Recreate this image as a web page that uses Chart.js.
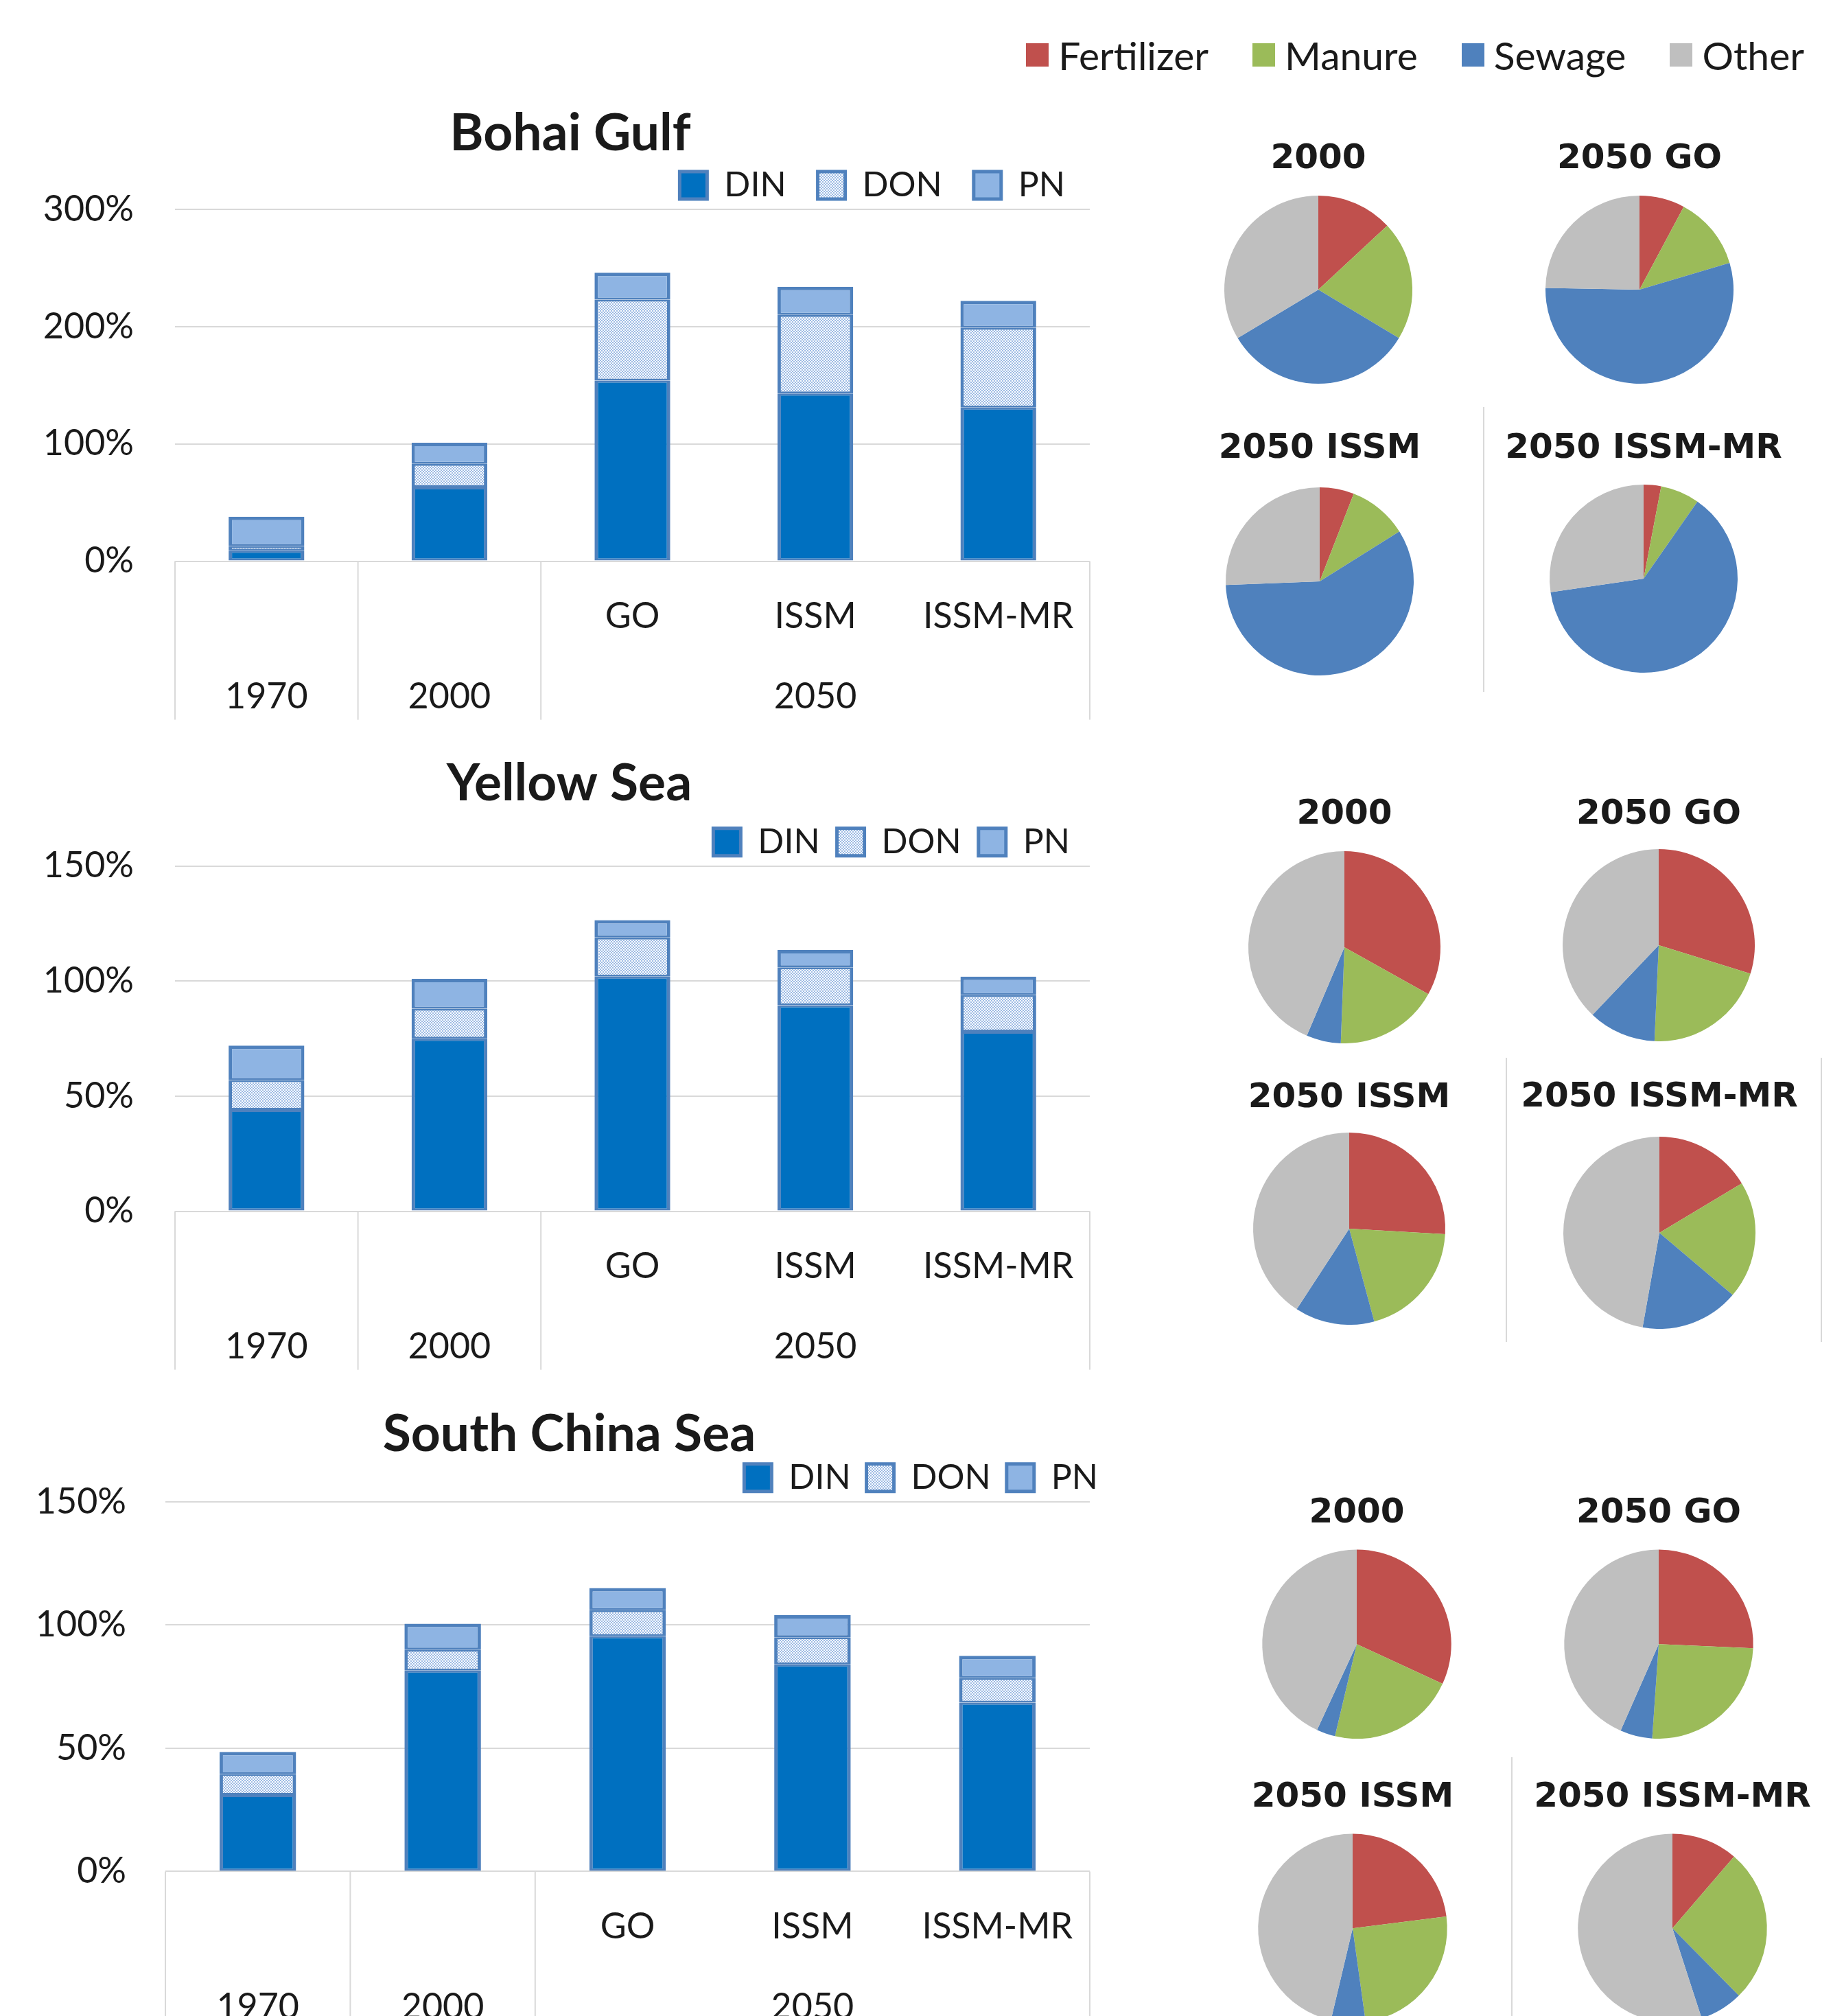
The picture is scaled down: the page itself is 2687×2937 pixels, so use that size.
<!DOCTYPE html>
<html>
<head>
<title>Nitrogen export to Chinese seas</title>
<script src="https://cdn.jsdelivr.net/npm/chart.js@4"></script>
<style>
  body { margin: 0; width: 2687px; height: 2937px; overflow: hidden; background: #fff; position: relative; font-family: Lato, sans-serif; }
  canvas { position: absolute; }
  .sep { position: absolute; width: 2px; background: #D9D9D9; }
  #sources { position: absolute; top: 50px; right: 58px; height: 60px; display: flex; align-items: center; font-size: 57px; color: #1a1a1a; }
  #sources .item { display: flex; align-items: center; margin-left: 64px; }
  #sources .box { display: inline-block; width: 33px; height: 34px; margin-right: 14px; }
</style>
</head>
<body>
<div id="sources"></div>
<script>
// ---- data ----
const categories = ['1970', '2000', 'GO', 'ISSM', 'ISSM-MR'];
const subLabels = ['', '', 'GO', 'ISSM', 'ISSM-MR'];
const groups = [['1970', 0, 0], ['2000', 1, 1], ['2050', 2, 4]];
const forms = ['DIN', 'DON', 'PN'];

// % of 2000 total
const bohaiDIN = [9, 63, 154, 143, 131];
const bohaiDON = [4, 20, 69, 67, 68];
const bohaiPN = [25, 18, 23, 24, 23];
const yellowDIN = [44, 75, 102, 89.5, 78];
const yellowDON = [13, 13, 17, 16.5, 16];
const yellowPN = [15, 13, 7.5, 7.5, 8];
const southDIN = [31, 81.5, 95.5, 84, 68.5];
const southDON = [8.5, 8.5, 10.5, 11, 10];
const southPN = [9, 10.5, 9, 9, 9];

const sources = ['Fertilizer', 'Manure', 'Sewage', 'Other'];
const pieTitles = ['2000', '2050 GO', '2050 ISSM', '2050 ISSM-MR'];
// source shares (%) per pie, order as pieTitles
const bohaiShares = [[13.1, 20.5, 32.8, 33.6], [7.8, 12.6, 54.9, 24.7], [5.9, 10.2, 58.3, 25.6], [3.0, 6.7, 63.0, 27.3]];
const yellowShares = [[33.1, 17.5, 5.8, 43.6], [29.8, 20.9, 11.4, 37.9], [25.9, 19.9, 13.4, 40.8], [16.4, 19.8, 16.6, 47.2]];
const southShares = [[31.9, 21.8, 3.2, 43.1], [25.7, 25.4, 5.5, 43.4], [23.0, 24.8, 5.9, 46.3], [11.3, 26.3, 7.4, 55.0]];

// ---- styles ----
const sourceColors = ['#C0504D', '#9BBB59', '#4F81BD', '#BFBFBF'];
const textColor = '#1a1a1a';
const gridColor = '#D9D9D9';
const edgeColor = '#4F81BD';

Chart.defaults.font.family = 'Lato';
Chart.defaults.color = textColor;

function addCanvas(left, top, w, h) {
    const c = document.createElement('canvas');
    c.width = w;
    c.height = h;
    c.style.left = left + 'px';
    c.style.top = top + 'px';
    document.body.appendChild(c);
    return c;
}

function dotPattern() {
    const t = document.createElement('canvas');
    t.width = 4;
    t.height = 4;
    const g = t.getContext('2d');
    g.fillStyle = '#ffffff';
    g.fillRect(0, 0, 4, 4);
    g.fillStyle = '#9DBBE4';
    g.fillRect(0, 0, 2, 2);
    g.fillRect(2, 2, 2, 2);
    return g.createPattern(t, 'repeat');
}

// two-level category axis drawn below the zero line, like the Excel original
const categoryBoxes = {
    id: 'categoryBoxes',
    afterDraw(chart) {
        const {ctx, chartArea: area, scales: {x, y}} = chart;
        const zero = y.getPixelForValue(0);
        const step = (area.right - area.left) / categories.length;
        ctx.save();
        ctx.strokeStyle = gridColor;
        ctx.lineWidth = 2;
        const edges = [0].concat(groups.map(g => g[2] + 1));
        edges.forEach(i => {
            const px = area.left + i * step;
            ctx.beginPath();
            ctx.moveTo(px, zero);
            ctx.lineTo(px, zero + 231);
            ctx.stroke();
        });
        ctx.fillStyle = textColor;
        ctx.font = '52px Lato';
        ctx.textAlign = 'center';
        ctx.textBaseline = 'middle';
        subLabels.forEach((s, i) => ctx.fillText(s, x.getPixelForValue(i), zero + 81));
        groups.forEach(([label, from, to]) => {
            ctx.fillText(label, (x.getPixelForValue(from) + x.getPixelForValue(to)) / 2, zero + 198);
        });
        ctx.restore();
    }
};

// nudge the DIN/DON/PN legend sideways after layout
const legendShift = {
    id: 'legendShift',
    afterLayout(chart, args, opts) {
        chart.legend.left += opts.dx;
        chart.legend.right += opts.dx;
    }
};

const dots = dotPattern();

function barChart(title, din, don, pn, yMax, yStep, g) {
    const c = addCanvas(0, g.top, g.width, g.height);
    const seg = (top) => ({top: top, bottom: 3, left: 5, right: 5});
    new Chart(c, {
        type: 'bar',
        data: {
            labels: categories,
            datasets: [
                {label: forms[0], data: din, backgroundColor: '#0070C0', borderColor: edgeColor, borderWidth: seg(3), borderSkipped: false},
                {label: forms[1], data: don, backgroundColor: dots, borderColor: edgeColor, borderWidth: seg(3), borderSkipped: false},
                {label: forms[2], data: pn, backgroundColor: '#8EB4E3', borderColor: edgeColor, borderWidth: seg(5), borderSkipped: false}
            ]
        },
        options: {
            responsive: false,
            animation: false,
            layout: {padding: {left: 0, right: 0, top: 0, bottom: g.padBottom}},
            datasets: {bar: {categoryPercentage: 1, barPercentage: 0.414}},
            scales: {
                x: {stacked: true, display: false},
                y: {
                    stacked: true,
                    min: 0,
                    max: yMax,
                    ticks: {stepSize: yStep, padding: g.tickPad, font: {size: 52}, callback: v => v + '%'},
                    grid: {color: gridColor, lineWidth: 2, drawTicks: false},
                    border: {display: false},
                    afterFit: s => { s.width = g.axisWidth; }
                },
                // empty right margin so the title centres over the whole panel
                y2: {
                    position: 'right',
                    grid: {display: false},
                    border: {display: false},
                    ticks: {display: false},
                    afterFit: s => { s.width = g.width - 1588; }
                }
            },
            plugins: {
                tooltip: {enabled: false},
                legendShift: {dx: g.legendDx},
                title: {
                    display: true,
                    text: title,
                    color: textColor,
                    font: {size: 75, weight: 'bold', lineHeight: 1.2},
                    padding: {top: 0, bottom: g.titlePad}
                },
                legend: {
                    position: 'top',
                    align: 'end',
                    fullSize: false,
                    labels: {
                        boxWidth: 40,
                        boxHeight: 40,
                        padding: g.legendPad,
                        font: {size: 50},
                        color: textColor,
                        generateLabels: ch => Chart.defaults.plugins.legend.labels.generateLabels(ch)
                            .map(l => Object.assign(l, {lineWidth: 5}))
                    }
                }
            }
        },
        plugins: [categoryBoxes, legendShift]
    });
}

function pieChart(title, shares, cx, cy, r, titleY) {
    const top = titleY - 26;
    const c = addCanvas(cx - 240, top, 480, Math.round(cy + r - top));
    new Chart(c, {
        type: 'pie',
        data: {
            labels: sources,
            datasets: [{data: shares, backgroundColor: sourceColors, borderWidth: 0, hoverOffset: 0}]
        },
        options: {
            responsive: false,
            animation: false,
            plugins: {
                legend: {display: false},
                tooltip: {enabled: false},
                title: {
                    display: true,
                    text: title,
                    color: textColor,
                    font: {family: 'DejaVu Sans', size: 50, weight: 'bold', lineHeight: 1.2},
                    padding: {top: 0, bottom: (cy - r) - (top + 60)}
                }
            }
        }
    });
}

function separator(x, y1, y2) {
    const d = document.createElement('div');
    d.className = 'sep';
    d.style.left = (x - 1) + 'px';
    d.style.top = y1 + 'px';
    d.style.height = (y2 - y1) + 'px';
    document.body.appendChild(d);
}

// ---- bar charts ----
barChart('Bohai Gulf', bohaiDIN, bohaiDON, bohaiPN, 300, 100,
    {top: 150, width: 1662, height: 918, axisWidth: 255, tickPad: 60, titlePad: -41, padBottom: 250.4, legendPad: 46, legendDx: 10});
barChart('Yellow Sea', yellowDIN, yellowDON, yellowPN, 150, 50,
    {top: 1097, width: 1659, height: 918, axisWidth: 255, tickPad: 60, titlePad: -10.3, padBottom: 250.4, legendPad: 25, legendDx: -4});
barChart('South China Sea', southDIN, southDON, southPN, 150, 50,
    {top: 2045, width: 1659, height: 932, axisWidth: 241, tickPad: 57, titlePad: -30.2, padBottom: 250.6, legendPad: 23, legendDx: 35});

// ---- pie charts: [cx, cy, titleY] per panel ----
const bohaiPies = [[1921, 422, 228], [2389, 422, 228], [1923, 847, 650], [2395, 843, 650]];
const yellowPies = [[1959, 1380, 1183], [2417, 1377, 1183], [1966, 1790, 1596], [2418, 1796, 1595]];
const southPies = [[1977, 2395, 2201], [2417, 2395, 2201], [1971, 2809, 2615], [2437, 2809, 2615]];

bohaiPies.forEach((p, i) => pieChart(pieTitles[i], bohaiShares[i], p[0], p[1], 137, p[2]));
yellowPies.forEach((p, i) => pieChart(pieTitles[i], yellowShares[i], p[0], p[1], 140, p[2]));
southPies.forEach((p, i) => pieChart(pieTitles[i], southShares[i], p[0], p[1], 137.5, p[2]));

separator(2162, 593, 1008);
separator(2195, 1541, 1955);
separator(2654, 1541, 1955);
separator(2203, 2560, 2937);

// ---- shared source legend ----
const legendDiv = document.getElementById('sources');
sources.forEach((s, i) => {
    const item = document.createElement('span');
    item.className = 'item';
    if (i === 0) item.style.marginLeft = '0';
    item.innerHTML = '<span class="box" style="background:' + sourceColors[i] + '"></span>' + s;
    legendDiv.appendChild(item);
});
</script>
</body>
</html>
